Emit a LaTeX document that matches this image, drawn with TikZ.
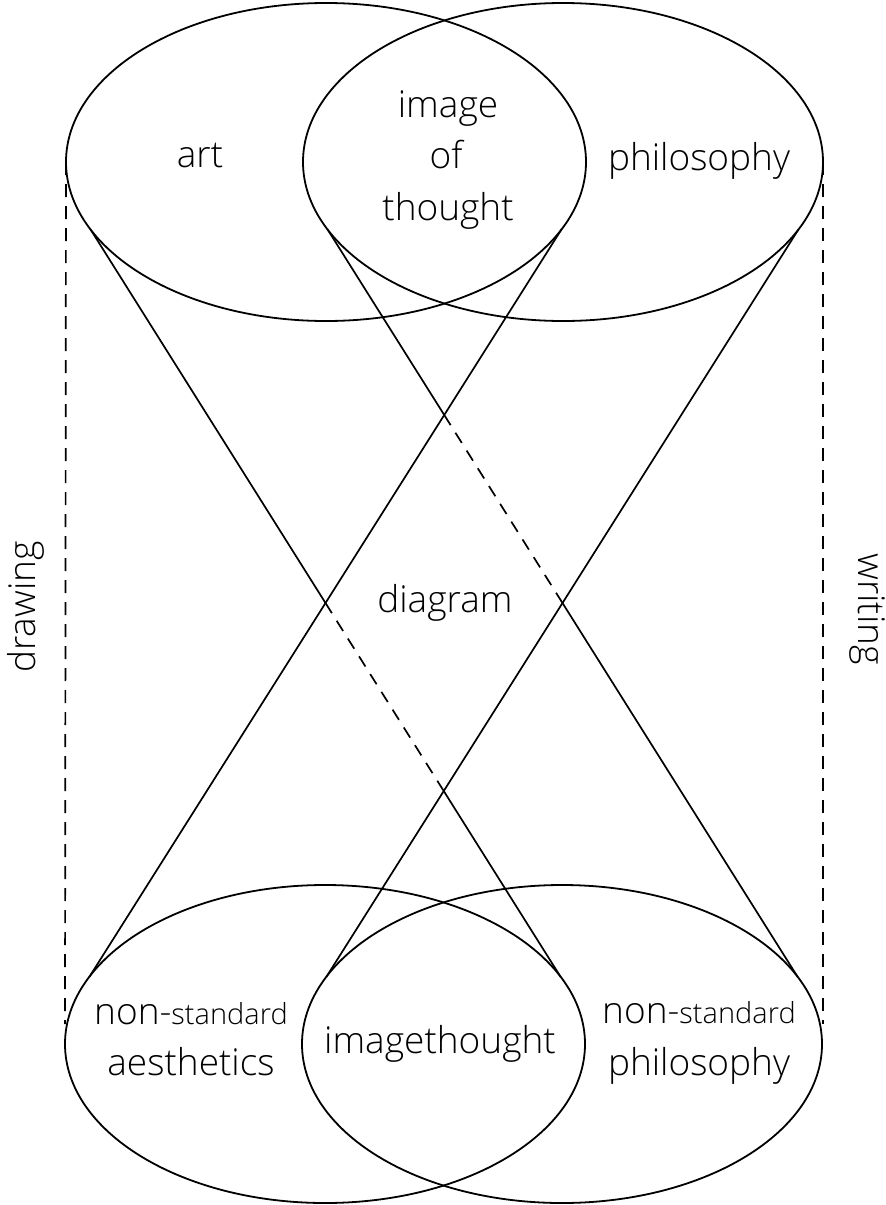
\documentclass[tikz,border=0pt]{standalone}
\usepackage{fontspec}
\IfFontExistsTF{Open Sans Light}{\setmainfont{Open Sans Light}}{\setmainfont{Open Sans}}
\usetikzlibrary{shapes.geometric}
\begin{document}
\begin{tikzpicture}[x=1pt,y=-1pt,
  ell/.style={draw, ellipse, minimum width=520pt, minimum height=318pt, inner sep=0pt, outer sep=0pt, line width=1.8pt},
  conn/.style={line width=1.7pt},
  hidden/.style={line width=1.7pt, dash pattern=on 12pt off 9pt},
  guide/.style={line width=1.7pt, dash pattern=on 13pt off 9pt},
  lbl/.style={font=\fontsize{37}{44}\selectfont, inner sep=0pt, anchor=base}
]
\useasboundingbox (0,0) rectangle (886,1205);

% ellipses
\node[ell] (TL) at (326,162) {};
\node[ell] (TR) at (563,162) {};
\node[ell] (BL) at (325,1044) {};
\node[ell] (BR) at (562,1044) {};

% end points of the cone lines on the ellipses
\coordinate (a1) at (90.4,229.2);
\coordinate (a3) at (561.6,229.2);
\coordinate (a2) at (327.4,229.2);
\coordinate (a4) at (798.6,229.2);
\coordinate (b3) at (89.4,976.8);
\coordinate (b1) at (560.6,976.8);
\coordinate (b4) at (326.4,976.8);
\coordinate (b2) at (797.6,976.8);

\coordinate (x13) at (intersection of a1--b1 and a3--b3);
\coordinate (x14) at (intersection of a1--b1 and a4--b4);
\coordinate (x23) at (intersection of a2--b2 and a3--b3);
\coordinate (x24) at (intersection of a2--b2 and a4--b4);

% solid lines
\draw[conn] (a3) -- (b3);
\draw[conn] (a4) -- (b4);
\draw[conn] (a1) -- (x13);
\draw[hidden] (x13) -- (x14);
\draw[conn] (x14) -- (b1);
\draw[conn] (a2) -- (x23);
\draw[hidden] (x23) -- (x24);
\draw[conn] (x24) -- (b2);

% dashed guides
\coordinate (gl) at (65,1024);
\coordinate (gr) at (823,1024);
\draw[guide] (TL.west) -- (gl);
\draw[guide] (TR.east) -- (gr);

% labels
\node[lbl] (art) at (200,167) {art};
\node[lbl] (phil) at (699,170) {philosophy};
\node[lbl] (img1) at (448,117) {image};
\node[lbl] (img2) at (446,168) {of};
\node[lbl] (img3) at (448,220) {thought};
\node[lbl] (diag) at (445,612) {diagram};
\node[lbl] (nsl) at (191,1024) {non-{\fontsize{29}{34}\selectfont standard}};
\node[lbl] (aes) at (191,1075) {aesthetics};
\node[lbl] (it) at (440,1053) {imagethought};
\node[lbl] (nsr) at (699,1023) {non-{\fontsize{29}{34}\selectfont standard}};
\node[lbl] (phil2) at (699,1075) {philosophy};
\node[lbl, rotate=90] (draw) at (35,607) {drawing};
\node[lbl, rotate=-90] (writ) at (858,609) {writing};
\end{tikzpicture}
\end{document}
